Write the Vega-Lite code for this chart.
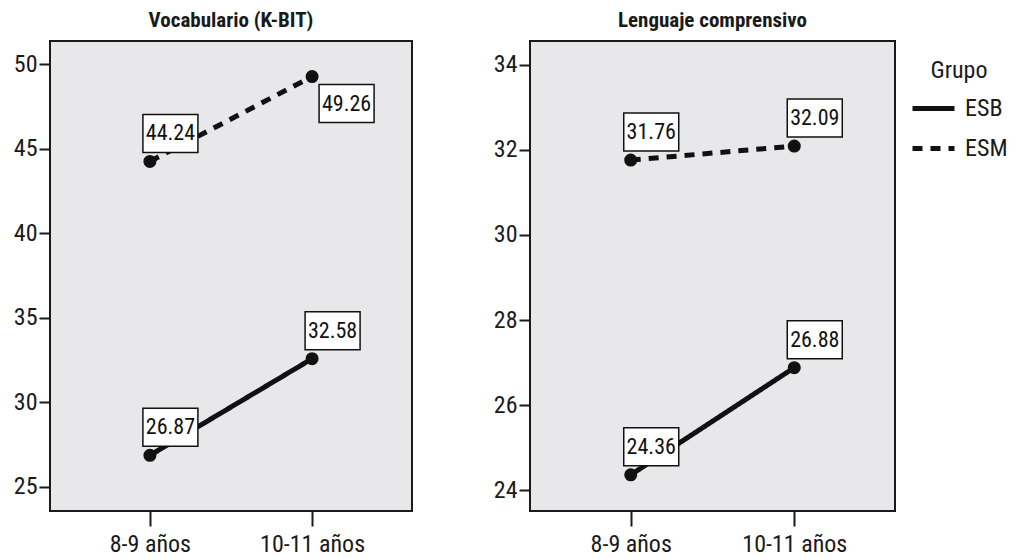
{
  "$schema": "https://vega.github.io/schema/vega-lite/v6.json",
  "background": "white",
  "padding": {"left": 12, "top": 9, "right": 0, "bottom": 0},
  "data": {
    "values": [
      {"panel": "Vocabulario (K-BIT)", "Edad": "8-9 años", "Grupo": "ESB", "valor": 26.87},
      {"panel": "Vocabulario (K-BIT)", "Edad": "10-11 años", "Grupo": "ESB", "valor": 32.58},
      {"panel": "Vocabulario (K-BIT)", "Edad": "8-9 años", "Grupo": "ESM", "valor": 44.24},
      {"panel": "Vocabulario (K-BIT)", "Edad": "10-11 años", "Grupo": "ESM", "valor": 49.26},
      {"panel": "Lenguaje comprensivo", "Edad": "8-9 años", "Grupo": "ESB", "valor": 24.36},
      {"panel": "Lenguaje comprensivo", "Edad": "10-11 años", "Grupo": "ESB", "valor": 26.88},
      {"panel": "Lenguaje comprensivo", "Edad": "8-9 años", "Grupo": "ESM", "valor": 31.76},
      {"panel": "Lenguaje comprensivo", "Edad": "10-11 años", "Grupo": "ESM", "valor": 32.09}
    ]
  },
  "spacing": 79,
  "hconcat": [
    {
      "title": "Vocabulario (K-BIT)",
      "width": 362,
      "height": 470,
      "transform": [{"filter": "datum.panel === 'Vocabulario (K-BIT)'"}],
      "encoding": {
        "x": {"field": "Edad", "type": "ordinal", "sort": ["8-9 años", "10-11 años"], "scale": {"type": "point", "padding": 0.616}, "axis": {"title": null}},
        "y": {"field": "valor", "type": "quantitative", "scale": {"domain": [23.58, 51.36], "nice": false, "zero": false}, "axis": {"title": null, "values": [25, 30, 35, 40, 45, 50]}}
      },
      "layer": [
        {"mark": {"type": "line", "color": "#111", "strokeWidth": 5}, "encoding": {"strokeDash": {"field": "Grupo", "type": "nominal", "title": "Grupo", "scale": {"domain": ["ESB", "ESM"], "range": [[1, 0], [10, 8]]}}}},
        {"mark": {"type": "circle", "color": "#111", "opacity": 1, "size": 170}},
        {"transform": [{"filter": "!(datum.Grupo === 'ESM' && datum.Edad === '10-11 años')"}], "mark": {"type": "point", "shape": "M-7,-47H48V-9H-7Z", "size": 4, "filled": true, "fill": "white", "stroke": "#111", "strokeWidth": 1.5, "opacity": 1}},
        {"transform": [{"filter": "!(datum.Grupo === 'ESM' && datum.Edad === '10-11 años')"}], "mark": {"type": "text", "dx": 20.5, "dy": -28, "align": "center", "baseline": "middle", "fontSize": 22, "color": "#111"}, "encoding": {"text": {"field": "valor", "type": "quantitative", "format": ".2f"}}},
        {"transform": [{"filter": "datum.Grupo === 'ESM' && datum.Edad === '10-11 años'"}], "mark": {"type": "point", "shape": "M7,8H62V46H7Z", "size": 4, "filled": true, "fill": "white", "stroke": "#111", "strokeWidth": 1.5, "opacity": 1}},
        {"transform": [{"filter": "datum.Grupo === 'ESM' && datum.Edad === '10-11 años'"}], "mark": {"type": "text", "dx": 34.5, "dy": 27, "align": "center", "baseline": "middle", "fontSize": 22, "color": "#111"}, "encoding": {"text": {"field": "valor", "type": "quantitative", "format": ".2f"}}}
      ]
    },
    {
      "title": "Lenguaje comprensivo",
      "width": 365,
      "height": 470,
      "transform": [{"filter": "datum.panel === 'Lenguaje comprensivo'"}],
      "encoding": {
        "x": {"field": "Edad", "type": "ordinal", "sort": ["8-9 años", "10-11 años"], "scale": {"type": "point", "padding": 0.616}, "axis": {"title": null}},
        "y": {"field": "valor", "type": "quantitative", "scale": {"domain": [23.51, 34.56], "nice": false, "zero": false}, "axis": {"title": null, "values": [24, 26, 28, 30, 32, 34]}}
      },
      "layer": [
        {"mark": {"type": "line", "color": "#111", "strokeWidth": 5}, "encoding": {"strokeDash": {"field": "Grupo", "type": "nominal", "title": "Grupo", "scale": {"domain": ["ESB", "ESM"], "range": [[1, 0], [10, 8]]}}}},
        {"mark": {"type": "circle", "color": "#111", "opacity": 1, "size": 170}},
        {"mark": {"type": "point", "shape": "M-7,-47H48V-9H-7Z", "size": 4, "filled": true, "fill": "white", "stroke": "#111", "strokeWidth": 1.5, "opacity": 1}},
        {"mark": {"type": "text", "dx": 20.5, "dy": -28, "align": "center", "baseline": "middle", "fontSize": 22, "color": "#111"}, "encoding": {"text": {"field": "valor", "type": "quantitative", "format": ".2f"}}}
      ]
    }
  ],
  "resolve": {"scale": {"y": "independent", "x": "independent"}},
  "config": {
    "font": "Liberation Sans Narrow, Arial Narrow, Roboto Condensed, DejaVu Sans Condensed, sans-serif",
    "view": {"fill": "#e8e8ea", "stroke": "#1a1a1a", "strokeWidth": 2},
    "title": {"fontSize": 21, "fontWeight": "bold", "color": "#1a1a1a", "offset": 10, "anchor": "middle"},
    "axis": {"grid": false, "domain": false, "tickColor": "#1a1a1a", "tickWidth": 2, "labelFontSize": 24, "labelColor": "#1a1a1a"},
    "axisY": {"tickSize": 11, "labelPadding": 2},
    "axisX": {"tickSize": 15, "labelPadding": 6, "labelAngle": 0},
    "legend": {"orient": "right", "offset": -4, "padding": 18, "titleFontSize": 24, "titleFontWeight": "normal", "titleColor": "#1a1a1a", "titleAnchor": "middle", "titlePadding": 2, "labelFontSize": 24, "labelColor": "#1a1a1a", "labelOffset": 8, "symbolType": "stroke", "symbolSize": 1764, "symbolStrokeWidth": 5, "symbolStrokeColor": "#111", "rowPadding": 4}
  }
}
